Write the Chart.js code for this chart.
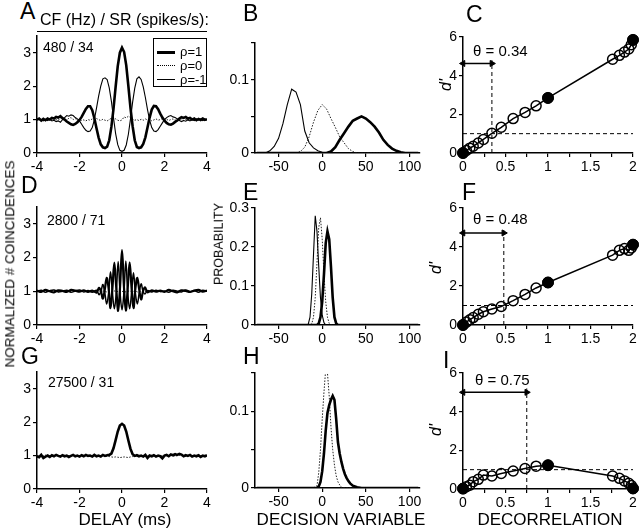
<!DOCTYPE html>
<html>
<head>
<meta charset="utf-8">
<script src="https://cdn.jsdelivr.net/npm/chart.js@4.4.0/dist/chart.umd.min.js"></script>
<style>
  body { margin: 0; background: #fff; }
  #fig { position: relative; width: 640px; height: 530px; overflow: hidden;
         font-family: "Liberation Sans", Arial, sans-serif; color: #000; }
  canvas { position: absolute; }
  .t { position: absolute; white-space: nowrap; line-height: 1; }
  .letter { font-size: 23px; }
  .cf { font-size: 14px; }
  .xt { font-size: 17px; transform: translateX(-50%); }
  .rot { transform: translate(-50%, -50%) rotate(-90deg); }
  .theta { font-size: 15px; }
  .dp { font-size: 16px; font-style: italic; }
  #legend { position: absolute; left: 153px; top: 38px; width: 54px; height: 49px;
            border: 1px solid #000; box-sizing: border-box; font-size: 13px; }
  #legend .s { position: absolute; left: 3px; width: 18px; height: 0; }
  #legend .l { position: absolute; left: 26px; line-height: 1; }
</style>
</head>
<body>
<div id="fig">
  <canvas id="cA"></canvas><canvas id="cB"></canvas><canvas id="cC"></canvas>
  <canvas id="cD"></canvas><canvas id="cE"></canvas><canvas id="cF"></canvas>
  <canvas id="cG"></canvas><canvas id="cH"></canvas><canvas id="cI"></canvas>

  <div class="t letter" style="left:20px;top:0px">A</div>
  <div class="t letter" style="left:243px;top:2px">B</div>
  <div class="t letter" style="left:466px;top:3px">C</div>
  <div class="t letter" style="left:21px;top:174px">D</div>
  <div class="t letter" style="left:243px;top:181px">E</div>
  <div class="t letter" style="left:462px;top:181px">F</div>
  <div class="t letter" style="left:21px;top:345px">G</div>
  <div class="t letter" style="left:243px;top:345px">H</div>
  <div class="t letter" style="left:443px;top:349px">I</div>

  <div class="t" style="left:40px;top:12px;font-size:16px">CF (Hz) / SR (spikes/s):</div>
  <div style="position:absolute;left:37px;top:31px;width:170px;border-top:1.5px solid #000"></div>

  <div class="t cf" style="left:43px;top:40px">480 / 34</div>
  <div class="t cf" style="left:47px;top:213px">2800 / 71</div>
  <div class="t cf" style="left:48px;top:375px">27500 / 31</div>

  <div id="legend">
    <div class="s" style="top:12px;border-top:3px solid #000"></div><div class="l" style="top:6px">ρ=1</div>
    <div class="s" style="top:26px;border-top:1px dotted #000"></div><div class="l" style="top:20px">ρ=0</div>
    <div class="s" style="top:40px;border-top:1px solid #000"></div><div class="l" style="top:34px">ρ=-1</div>
  </div>

  <div class="t rot" style="left:10px;top:264px;font-size:13.5px">NORMALIZED # COINCIDENCES</div>
  <div class="t rot" style="left:219px;top:244px;font-size:12.5px">PROBABILITY</div>
  <div class="t rot dp" style="left:446px;top:85px">d'</div>
  <div class="t rot dp" style="left:436px;top:268px">d'</div>
  <div class="t rot dp" style="left:436px;top:430px">d'</div>

  <div class="t theta" style="left:473px;top:43px">θ = 0.34</div>
  <div class="t theta" style="left:473px;top:211px">θ = 0.48</div>
  <div class="t theta" style="left:475px;top:372px">θ = 0.75</div>

  <div class="t xt" style="left:125px;top:511px">DELAY (ms)</div>
  <div class="t xt" style="left:341px;top:511px">DECISION VARIABLE</div>
  <div class="t xt" style="left:550px;top:511px">DECORRELATION</div>
</div>

<script>
// ---- cross-correlograms (A, G share the same delay grid) ----
const delayA = [-4,-3.9,-3.8,-3.7,-3.6,-3.5,-3.4,-3.3,-3.2,-3.1,-3,-2.9,-2.8,-2.7,-2.6,-2.5,-2.4,-2.3,-2.2,-2.1,
  -2,-1.9,-1.8,-1.7,-1.6,-1.5,-1.4,-1.3,-1.2,-1.1,-1,-0.9,-0.8,-0.7,-0.6,-0.5,-0.4,-0.3,-0.2,-0.1,
  0,0.1,0.2,0.3,0.4,0.5,0.6,0.7,0.8,0.9,1,1.1,1.2,1.3,1.4,1.5,1.6,1.7,1.8,1.9,
  2,2.1,2.2,2.3,2.4,2.5,2.6,2.7,2.8,2.9,3,3.1,3.2,3.3,3.4,3.5,3.6,3.7,3.8,3.9,4];

const rho1A = [1.00,1.03,0.97,1.02,0.98,1.03,1.00,1.05,1.03,1.08,
  1.06,1.10,1.04,1.00,0.94,0.90,0.86,0.84,0.87,0.92,
  0.99,1.08,1.20,1.32,1.40,1.40,1.28,1.04,0.74,0.46,
  0.26,0.17,0.15,0.19,0.38,0.78,1.32,1.98,2.60,3.00,
  3.15,3.02,2.62,2.00,1.34,0.80,0.38,0.18,0.15,0.17,
  0.27,0.47,0.76,1.06,1.30,1.41,1.40,1.31,1.18,1.06,
  0.97,0.90,0.86,0.85,0.88,0.93,0.97,1.03,1.07,1.05,
  1.08,1.03,1.05,1.00,1.03,0.98,1.02,0.99,1.03,0.99,1.01];
const rho0A = [1.02,0.98,1.00,1.03,0.99,1.01,0.97,1.02,1.04,1.00,
  0.98,1.05,1.08,1.02,0.99,1.04,1.06,1.00,1.03,0.98,
  1.01,0.97,0.99,0.96,1.00,0.98,1.02,0.99,1.03,1.00,
  0.97,1.01,0.98,0.96,1.00,1.04,1.06,1.02,0.98,0.96,
  0.99,1.08,1.05,1.10,1.06,1.02,0.98,1.00,0.97,1.01,
  0.98,1.02,0.99,1.01,0.96,0.99,1.02,0.98,1.00,1.03,
  0.99,1.01,0.97,1.00,1.02,0.98,1.01,1.04,1.00,0.97,
  1.01,0.99,1.02,0.98,1.00,1.03,0.99,1.01,0.98,1.02,1.00];
const rhoM1A = [0.98,1.02,1.00,0.96,1.01,0.97,1.02,0.96,0.98,0.94,
  0.96,0.92,1.00,1.06,1.12,1.10,1.14,1.12,1.06,1.02,
  0.96,0.86,0.76,0.68,0.64,0.66,0.76,1.00,1.34,1.70,
  2.00,2.22,2.25,2.20,1.95,1.55,1.05,0.58,0.25,0.08,
  0.05,0.08,0.24,0.56,1.02,1.52,1.94,2.22,2.28,2.20,
  1.98,1.66,1.30,0.98,0.76,0.66,0.64,0.70,0.80,0.90,
  1.00,1.06,1.10,1.12,1.08,1.06,1.02,0.97,0.94,0.97,
  0.95,0.99,0.96,1.00,0.97,1.01,0.98,1.02,0.97,1.00,0.99];

const delayD = [-4,-3.8,-3.6,-3.4,-3.2,-3,-2.8,-2.6,-2.4,-2.2,-2,-1.8,-1.6,-1.4,-1.2,
  -1.08,-0.99,-0.9,-0.81,-0.72,-0.63,-0.54,-0.45,-0.36,-0.27,-0.18,-0.09,0,
  0.09,0.18,0.27,0.36,0.45,0.54,0.63,0.72,0.81,0.9,0.99,1.08,
  1.2,1.4,1.6,1.8,2,2.2,2.4,2.6,2.8,3,3.2,3.4,3.6,3.8,4];
const rho1D = [1.02,0.98,1.04,1.00,0.97,1.03,1.01,0.98,1.04,1.02,0.99,1.03,0.98,1.02,0.96,
  1.10,1.00,0.78,1.05,1.40,1.08,0.50,1.10,1.85,1.10,0.42,1.15,2.22,
  1.15,0.43,1.10,1.86,1.10,0.50,1.08,1.40,1.05,0.76,1.00,1.12,
  0.97,1.03,0.99,1.02,0.98,1.04,1.00,0.97,1.03,1.01,0.98,1.02,1.04,0.99,1.02];
const rho0D = [1.00,1.01,0.99,1.00,1.02,0.99,1.00,1.01,0.99,1.00,1.01,1.00,0.99,1.01,1.00,
  1.00,0.99,1.01,1.00,0.98,1.01,1.00,0.99,1.01,0.98,1.00,1.02,0.99,
  1.01,0.98,1.00,1.01,0.99,1.00,1.01,0.98,1.00,0.99,1.01,1.00,
  1.00,0.99,1.01,1.00,0.99,1.01,1.00,0.99,1.01,1.00,0.99,1.00,1.01,0.99,1.00];
const rhoM1D = [0.99,1.03,0.97,1.02,1.04,0.98,1.00,1.03,0.97,1.01,1.04,0.98,1.02,0.97,1.03,
  0.90,1.00,1.20,0.95,0.62,0.95,1.58,0.95,0.48,0.95,1.88,0.95,0.45,
  0.95,1.90,0.95,0.48,0.95,1.55,0.95,0.62,0.95,1.22,1.00,0.92,
  1.02,0.98,1.03,0.99,1.01,0.97,1.03,1.00,0.98,1.04,0.99,1.02,0.97,1.03,1.00];

const rho1G = [0.98,0.95,1.02,0.93,0.97,1.00,0.96,1.01,0.98,1.02,
  0.99,0.97,1.01,0.98,1.00,0.96,0.99,1.02,0.98,1.00,
  0.97,1.01,0.98,1.02,0.99,1.00,0.97,1.02,0.98,1.00,
  0.97,1.02,0.99,1.01,1.02,1.06,1.22,1.46,1.72,1.90,
  1.95,1.90,1.72,1.45,1.20,1.04,0.99,1.01,0.98,1.00,
  0.97,1.02,0.93,1.00,0.98,1.01,0.97,1.00,0.98,0.92,
  1.00,1.02,0.98,1.03,1.01,1.04,1.02,1.05,1.03,0.98,
  1.01,0.99,1.02,0.97,1.00,0.98,1.01,0.96,1.00,0.98,1.01];
const rho0G = [1.00,0.98,1.01,0.99,1.02,0.98,1.00,1.01,0.99,1.00,
  1.01,0.98,1.00,0.99,1.01,1.00,0.98,1.01,0.99,1.00,
  0.98,1.01,1.00,0.99,1.01,0.98,1.00,1.01,0.99,1.00,
  0.98,1.00,0.99,0.98,0.97,0.96,0.95,0.96,0.95,0.94,
  0.95,0.96,0.95,0.94,0.96,0.97,0.98,0.99,1.00,0.99,
  1.01,1.00,0.98,1.00,0.99,1.01,1.00,0.98,1.00,0.99,
  1.01,1.00,0.99,1.01,1.00,0.98,1.00,1.01,0.99,1.00,
  0.98,1.00,1.01,0.99,1.00,0.98,1.01,1.00,0.99,1.00,1.00];

// ---- decision-variable distributions ----
const dvB = [-75,-70,-65,-60,-55,-50,-45,-40,-35,-30,-25,-20,-15,-10,-5,0,5,10,15,20,
  25,30,35,40,45,50,55,60,65,70,75,80,85,90,95,100,105,110];
const rhoM1B = [0,0,0,0.003,0.009,0.02,0.04,0.066,0.087,0.083,0.066,0.03,0.014,0.007,0.003,0.001,
  0,0,0,0,0,0,0,0,0,0,0,0,0,0,0,0,0,0,0,0,0,0];
const rho0B = [0,0,0,0,0,0,0,0,0,0,0.002,0.008,0.022,0.042,0.058,0.066,0.06,0.047,0.035,0.022,
  0.014,0.006,0.002,0,0,0,0,0,0,0,0,0,0,0,0,0,0,0];
const rho1B = [0,0,0,0,0,0,0,0,0,0,0,0,0,0,0,0,0,0.002,0.008,0.018,
  0.027,0.036,0.044,0.047,0.05,0.047,0.042,0.036,0.028,0.018,0.011,0.006,0.003,0.001,0,0,0,0];

const dvE = [-75,-20,-18,-16,-14,-12,-10,-8,-6,-4,-2,0,2,4,6,8,10,12,14,16,18,20,25,110];
const rhoM1E = [0,0,0,0.002,0.02,0.08,0.18,0.28,0.24,0.15,0.07,0.025,0.006,0,0,0,0,0,0,0,0,0,0,0];
const rho0E = [0,0,0,0,0,0.003,0.02,0.07,0.16,0.25,0.275,0.22,0.13,0.06,0.02,0.004,0,0,0,0,0,0,0,0];
const rho1E = [0,0,0,0,0,0,0,0,0,0.004,0.02,0.06,0.13,0.21,0.24,0.22,0.15,0.07,0.02,0.004,0,0,0,0];

const dvH = [-75,-10,-6,-4,-2,0,2,4,6,8,10,12,14,16,18,20,22,24,26,28,30,32,35,40,45,50,110];
const rho0H = [0,0,0.003,0.02,0.05,0.09,0.125,0.155,0.15,0.12,0.08,0.05,0.03,0.016,0.008,0.004,0.001,
  0,0,0,0,0,0,0,0,0,0];
const rho1H = [0,0,0,0.002,0.008,0.022,0.045,0.075,0.098,0.108,0.115,0.12,0.115,0.09,0.06,0.045,0.034,
  0.025,0.018,0.013,0.009,0.006,0.003,0.001,0,0,0];

// ---- d' versus decorrelation ----
const decor = [0,0.04,0.08,0.12,0.18,0.24,0.34,0.45,0.59,0.73,0.86,1,1.76,1.84,1.9,1.95,1.98,2];
const filledAt = [0, 1, 2];
const dC = [0,0.13,0.25,0.35,0.52,0.7,1.02,1.33,1.78,2.1,2.44,2.85,4.85,5.05,5.22,5.38,5.6,5.85];
const dF = [0,0.15,0.27,0.38,0.55,0.68,0.82,0.95,1.25,1.57,1.9,2.18,3.58,3.83,3.92,3.83,3.95,4.12];
const dI = [0.02,0.12,0.2,0.38,0.5,0.72,0.67,0.8,0.93,1.06,1.18,1.23,0.67,0.55,0.42,0.3,0.18,0.03];
const thetas = [0.34, 0.48, 0.75];
const criterion = 1;

// layout
const FONT = '"Liberation Sans", Arial, sans-serif';
Chart.defaults.font.family = FONT;
Chart.defaults.color = '#000';
const Y_W = 30, X_H = 22, PAD_T = 11, PAD_R = 7;

function xy(xs, ys) { return xs.map((x, i) => ({ x: x, y: ys[i] })); }

function scale(axis, o) {
  return {
    type: 'linear', min: o.min, max: o.max,
    afterFit: s => { if (axis === 'x') s.height = X_H; else s.width = Y_W; },
    border: { color: '#000', width: 1.5 },
    grid: { drawOnChartArea: false, color: '#000', lineWidth: 1.2, tickLength: 4 },
    ticks: {
      stepSize: o.step, includeBounds: false, autoSkip: false, maxRotation: 0,
      padding: 2, font: { size: 14 }, color: '#000',
      callback: o.label || (v => String(v))
    }
  };
}

function draw(id, area, xo, yo, datasets) {
  const c = document.getElementById(id);
  c.width = Y_W + area.r - area.l + PAD_R;
  c.height = PAD_T + area.b - area.t + X_H;
  c.style.left = (area.l - Y_W) + 'px';
  c.style.top = (area.t - PAD_T) + 'px';
  return new Chart(c, {
    type: 'line',
    data: { datasets: datasets },
    options: {
      responsive: false, animation: false, events: [],
      layout: { padding: { top: PAD_T, right: PAD_R, left: 0, bottom: 0 } },
      plugins: { legend: { display: false }, tooltip: { enabled: false } },
      scales: { x: scale('x', xo), y: scale('y', yo) }
    }
  });
}

const thick = { borderColor: '#000', borderWidth: 2.6, pointRadius: 0 };
const thin = { borderColor: '#000', borderWidth: 1.1, pointRadius: 0 };
const dotted = { borderColor: '#222', borderWidth: 1, borderDash: [1.5, 1.5], pointRadius: 0 };

// correlograms
const xDelay = { min: -4, max: 4, step: 2 };
const yCoinc = { min: 0, max: 3.5, step: 1 };
draw('cA', { l: 37, r: 207, t: 36, b: 153 }, xDelay, yCoinc, [
  { ...thick, data: xy(delayA, rho1A) },
  { ...thin, data: xy(delayA, rhoM1A) },
  { ...dotted, data: xy(delayA, rho0A) }
]);
draw('cD', { l: 37, r: 207, t: 207, b: 325 }, xDelay, yCoinc, [
  { ...thick, borderWidth: 2.2, tension: 0.35, data: xy(delayD, rho1D) },
  { ...thin, borderWidth: 1.5, tension: 0.35, data: xy(delayD, rhoM1D) },
  { ...dotted, data: xy(delayD, rho0D) }
]);
draw('cG', { l: 37, r: 207, t: 372, b: 489 }, xDelay, yCoinc, [
  { ...thick, data: xy(delayA, rho1G) },
  { ...dotted, data: xy(delayA, rho0G) }
]);

// distributions
const xDV = { min: -77, max: 112, step: 50 };
const smallY = { min: 0, max: 0.15, step: 0.05,
  label: v => (Math.abs(v) < 1e-9 ? '0' : Math.abs(v - 0.1) < 1e-9 ? '0.1' : '') };
draw('cB', { l: 255, r: 420, t: 43, b: 153 }, xDV, smallY, [
  { ...thick, data: xy(dvB, rho1B) },
  { ...thin, data: xy(dvB, rhoM1B) },
  { ...dotted, data: xy(dvB, rho0B) }
]);
draw('cE', { l: 255, r: 420, t: 208, b: 325 }, xDV,
  { min: 0, max: 0.3, step: 0.1, label: v => String(+v.toFixed(2)) }, [
  { ...thick, data: xy(dvE, rho1E) },
  { ...thin, data: xy(dvE, rhoM1E) },
  { ...dotted, data: xy(dvE, rho0E) }
]);
draw('cH', { l: 255, r: 420, t: 373, b: 488 }, xDV, smallY, [
  { ...thick, data: xy(dvH, rho1H) },
  { ...dotted, data: xy(dvH, rho0H) }
]);

// d' panels
const xDec = { min: 0, max: 2, step: 0.25,
  label: v => (Math.abs(v * 2 - Math.round(v * 2)) < 1e-9 ? String(v) : '') };
const yD = { min: 0, max: 6, step: 2 };

function dPrime(ys, theta, arrowY, lineTop) {
  const pts = xy(decor, ys);
  const solid = pts.filter(p => filledAt.includes(p.x));
  return [
    { data: solid, showLine: false, clip: false, pointRadius: 5.5,
      pointBackgroundColor: '#000', pointBorderColor: '#000', pointBorderWidth: 1 },
    { data: pts, clip: false, borderColor: '#000', borderWidth: 1.5, pointRadius: 5,
      pointBorderWidth: 1.5, pointBorderColor: '#000', pointBackgroundColor: 'rgba(0,0,0,0)' },
    { data: [{ x: 0, y: criterion }, { x: 2, y: criterion }], borderColor: '#000',
      borderWidth: 1, borderDash: [4, 3], pointRadius: 0 },
    { data: [{ x: theta, y: 0 }, { x: theta, y: lineTop }], borderColor: '#000',
      borderWidth: 1, borderDash: [4, 3], pointRadius: 0 },
    { data: [{ x: 0, y: arrowY }, { x: theta, y: arrowY }], borderColor: '#000', borderWidth: 1.5,
      clip: false, pointStyle: 'triangle', pointRotation: [-90, 90], pointRadius: 3.5,
      pointBackgroundColor: '#000', pointBorderColor: '#000', pointBorderWidth: 1 }
  ];
}

draw('cC', { l: 463, r: 633, t: 37, b: 153 }, xDec, yD, dPrime(dC, thetas[0], 4.63, 4.8));
draw('cF', { l: 463, r: 633, t: 208, b: 325 }, xDec, yD, dPrime(dF, thetas[1], 4.72, 4.94));
draw('cI', { l: 463, r: 633, t: 373, b: 489 }, xDec, yD, dPrime(dI, thetas[2], 5.0, 5.2));
</script>
</body>
</html>
